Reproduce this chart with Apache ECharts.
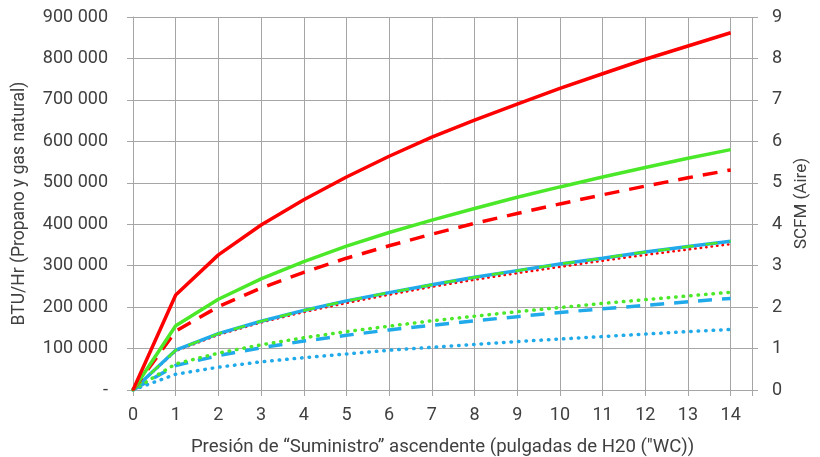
<!DOCTYPE html>
<html>
<head>
<meta charset="utf-8">
<script src="https://cdn.jsdelivr.net/npm/echarts@6/dist/echarts.min.js"></script>
<style>
  html, body { margin: 0; padding: 0; background: #fff; }
  #chart { width: 820px; height: 457px; }
</style>
</head>
<body>
<div id="chart"></div>
<script>
// presion (pulgadas WC)
var xVals = [0, 1, 2, 3, 4, 5, 6, 7, 8, 9, 10, 11, 12, 13, 14];

// BTU/Hr
var redSolid   = [0, 229000, 326000, 398000, 459000, 514000, 564000, 610000, 651000, 690000, 728000, 763000, 798000, 830000, 862000];
var greenSolid = [0, 155000, 219000, 268000, 310000, 347000, 380000, 410000, 438000, 465000, 490000, 514000, 537000, 559000, 580000];
var redDash    = [0, 142000, 201000, 246000, 284000, 318000, 348000, 376000, 402000, 426000, 449000, 471000, 492000, 512000, 531000];
var blueSolid  = [0, 96000, 136000, 166000, 192000, 215000, 235000, 254000, 272000, 288000, 304000, 318000, 333000, 346000, 359000];
var greenDash  = [0, 96000, 136000, 166000, 192000, 215000, 235000, 254000, 272000, 288000, 304000, 318000, 333000, 346000, 359000];
var redDot     = [0, 94000, 133000, 163000, 188000, 210000, 230000, 249000, 266000, 282000, 297000, 312000, 326000, 339000, 352000];
var greenDot   = [0, 63000, 89000, 109000, 126000, 141000, 154000, 167000, 178000, 189000, 199000, 209000, 218000, 227000, 236000];
var blueDash   = [0, 59000, 83000, 102000, 118000, 132000, 145000, 156000, 167000, 177000, 187000, 196000, 204000, 213000, 221000];
var blueDot    = [0, 38000, 55000, 68000, 78000, 87000, 96000, 103000, 110000, 117000, 123000, 129000, 135000, 141000, 146000];

var RED = '#ff0000', GREEN = '#4be82a', BLUE = '#21aaea';
var gridColor = '#a6a6a6', txt = '#404040';
var font = 'Roboto';

function pts(arr) {
    return xVals.map(function (x, i) { return [x, arr[i]]; });
}
function mk(data, color, type, width, z) {
    return {
        type: 'line', data: pts(data), showSymbol: false, smooth: false, z: z,
        lineStyle: { color: color, width: width, type: type, cap: type === 'solid' ? 'butt' : (type[0] < 2 ? 'round' : 'butt') },
        emphasis: { disabled: true }
    };
}
function fmtBtu(v) {
    if (v === 0) return '-';
    return String(v).replace(/\B(?=(\d{3})+(?!\d))/g, ' ');
}

var chart = echarts.init(document.getElementById('chart'));
chart.setOption({
    animation: false,
    grid: { left: 133, right: 68, top: 17, bottom: 67, outerBoundsMode: 'none' },
    xAxis: {
        type: 'value', min: 0, max: 14.5, interval: 1,
        name: 'Presión de “Suministro” ascendente (pulgadas de H20 ("WC))',
        nameLocation: 'middle', nameGap: 48,
        nameTextStyle: { color: txt, fontSize: 18.6, fontFamily: font },
        axisLine: { show: true, lineStyle: { color: gridColor } },
        axisTick: { show: true, length: 6, lineStyle: { color: gridColor } },
        axisLabel: {
            color: txt, fontSize: 18, fontFamily: font, margin: 16,
            formatter: function (v) { return v % 1 === 0 ? String(v) : ''; }
        },
        splitLine: { show: true, lineStyle: { color: gridColor, width: 1 } }
    },
    yAxis: [{
        type: 'value', min: 0, max: 900000, interval: 100000, position: 'left',
        name: 'BTU/Hr (Propano y gas natural)',
        nameLocation: 'middle', nameGap: 104, nameRotate: 90,
        nameTextStyle: { color: txt, fontSize: 17.5, fontFamily: font },
        axisLine: { show: true, lineStyle: { color: gridColor } },
        axisTick: { show: true, length: 6, lineStyle: { color: gridColor } },
        axisLabel: { color: txt, fontSize: 18, fontFamily: font, margin: 25, formatter: fmtBtu },
        splitLine: { show: true, lineStyle: { color: gridColor, width: 1 } }
    }, {
        type: 'value', min: 0, max: 9, interval: 1, position: 'right',
        name: 'SCFM (Aire)',
        nameLocation: 'middle', nameGap: 40, nameRotate: 90,
        nameTextStyle: { color: txt, fontSize: 17, fontFamily: font },
        axisLine: { show: false },
        axisTick: { show: true, length: 6, lineStyle: { color: gridColor } },
        axisLabel: { color: txt, fontSize: 18, fontFamily: font, margin: 20 },
        splitLine: { show: false }
    }],
    series: [
        mk(redSolid, RED, 'solid', 3.5, 9),
        mk(greenSolid, GREEN, 'solid', 3.5, 8),
        mk(redDash, RED, [15, 10], 3.5, 7),
        mk(redDot, RED, [0.5, 5], 2.5, 4),
        mk(blueSolid, BLUE, 'solid', 3.5, 5),
        mk(greenDash, GREEN, [12, 12], 2.5, 6),
        mk(greenDot, GREEN, [0.5, 7], 3.5, 3),
        mk(blueDash, BLUE, [14, 10], 3.5, 2),
        mk(blueDot, BLUE, [0.5, 7], 3.5, 1)
    ]
});
</script>
</body>
</html>
